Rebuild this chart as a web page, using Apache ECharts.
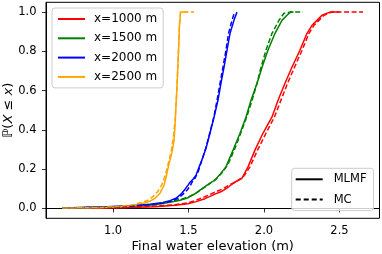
<!DOCTYPE html>
<html>
<head>
<meta charset="utf-8">
<script src="https://cdn.jsdelivr.net/npm/echarts@6/dist/echarts.min.js"></script>
<style>
html,body{margin:0;padding:0;background:#fff;}
#chart{width:382px;height:254px;}
</style>
</head>
<body>
<div id="chart"></div>
<script>
// ---- data ----
const xTicks = [1.0, 1.5, 2.0, 2.5];
const yTicks = [0.0, 0.2, 0.4, 0.6, 0.8, 1.0];
const legendNames = ['x=1000 m', 'x=1500 m', 'x=2000 m', 'x=2500 m'];
const methodNames = ['MLMF', 'MC'];

// x = 1000 m
const x1000_mlmf_x = [0.662, 1.046, 1.278, 1.411, 1.497, 1.550, 1.609, 1.675, 1.722, 1.762, 1.801, 1.854, 1.894, 1.940, 1.993, 2.053, 2.093, 2.139, 2.185, 2.238, 2.285, 2.318, 2.351, 2.384, 2.437, 2.500];
const x1000_mlmf_y = [0.002, 0.004, 0.009, 0.017, 0.024, 0.035, 0.050, 0.073, 0.088, 0.108, 0.131, 0.154, 0.212, 0.297, 0.383, 0.466, 0.551, 0.638, 0.719, 0.806, 0.892, 0.933, 0.958, 0.984, 1.000, 1.000];
const x1000_mc_x = [0.662, 1.046, 1.278, 1.411, 1.497, 1.550, 1.609, 1.675, 1.722, 1.762, 1.808, 1.861, 1.907, 1.957, 2.013, 2.069, 2.112, 2.156, 2.202, 2.252, 2.298, 2.331, 2.364, 2.397, 2.450, 2.536, 2.656];
const x1000_mc_y = [0.002, 0.005, 0.012, 0.019, 0.029, 0.042, 0.060, 0.083, 0.098, 0.116, 0.134, 0.159, 0.212, 0.297, 0.383, 0.466, 0.551, 0.638, 0.719, 0.806, 0.892, 0.933, 0.958, 0.984, 1.000, 1.000, 1.000];

// x = 1500 m
const x1500_mlmf_x = [0.662, 0.980, 1.179, 1.278, 1.377, 1.444, 1.497, 1.543, 1.576, 1.609, 1.642, 1.675, 1.709, 1.748, 1.795, 1.841, 1.881, 1.914, 1.954, 1.987, 2.026, 2.073, 2.119, 2.152, 2.175, 2.195];
const x1500_mlmf_y = [0.002, 0.007, 0.014, 0.019, 0.032, 0.042, 0.055, 0.075, 0.093, 0.111, 0.129, 0.144, 0.175, 0.212, 0.297, 0.383, 0.466, 0.551, 0.638, 0.719, 0.806, 0.892, 0.958, 0.984, 1.000, 1.000];
const x1500_mc_x = [0.662, 0.980, 1.179, 1.278, 1.377, 1.444, 1.497, 1.550, 1.583, 1.616, 1.649, 1.682, 1.722, 1.762, 1.808, 1.848, 1.887, 1.921, 1.954, 1.980, 2.013, 2.053, 2.099, 2.132, 2.172, 2.258];
const x1500_mc_y = [0.002, 0.007, 0.016, 0.022, 0.035, 0.045, 0.058, 0.078, 0.096, 0.113, 0.131, 0.149, 0.182, 0.225, 0.307, 0.388, 0.470, 0.551, 0.638, 0.719, 0.806, 0.892, 0.958, 0.994, 1.000, 1.000];

// x = 2000 m
const x2000_mlmf_x = [0.662, 0.914, 1.113, 1.245, 1.331, 1.377, 1.417, 1.450, 1.477, 1.497, 1.510, 1.530, 1.550, 1.583, 1.616, 1.642, 1.669, 1.695, 1.715, 1.735, 1.755, 1.775, 1.801, 1.821];
const x2000_mlmf_y = [0.002, 0.007, 0.014, 0.022, 0.030, 0.040, 0.052, 0.073, 0.098, 0.119, 0.134, 0.149, 0.170, 0.236, 0.307, 0.383, 0.465, 0.551, 0.638, 0.719, 0.806, 0.892, 0.958, 1.000];
const x2000_mc_x = [0.662, 0.914, 1.113, 1.245, 1.331, 1.384, 1.430, 1.464, 1.490, 1.510, 1.523, 1.543, 1.563, 1.589, 1.616, 1.642, 1.669, 1.689, 1.709, 1.728, 1.748, 1.765, 1.788, 1.805];
const x2000_mc_y = [0.002, 0.006, 0.013, 0.019, 0.027, 0.037, 0.052, 0.073, 0.093, 0.113, 0.134, 0.154, 0.185, 0.246, 0.312, 0.388, 0.470, 0.551, 0.638, 0.719, 0.806, 0.892, 0.958, 1.000];

// x = 2500 m
const x2500_mlmf_x = [0.662, 0.914, 1.046, 1.132, 1.212, 1.245, 1.278, 1.311, 1.338, 1.351, 1.364, 1.377, 1.391, 1.404, 1.411, 1.417, 1.424, 1.434, 1.440, 1.447, 1.470, 1.497];
const x2500_mlmf_y = [0.002, 0.004, 0.009, 0.014, 0.029, 0.037, 0.052, 0.078, 0.119, 0.159, 0.205, 0.246, 0.287, 0.348, 0.424, 0.526, 0.628, 0.806, 0.933, 1.000, 1.000, 1.000];
const x2500_mc_x = [0.662, 0.914, 1.046, 1.132, 1.198, 1.231, 1.264, 1.298, 1.325, 1.344, 1.358, 1.371, 1.384, 1.397, 1.411, 1.421, 1.431, 1.440, 1.447, 1.483, 1.536];
const x2500_mc_y = [0.002, 0.005, 0.011, 0.019, 0.032, 0.042, 0.060, 0.088, 0.124, 0.165, 0.205, 0.246, 0.287, 0.348, 0.450, 0.577, 0.755, 0.933, 1.000, 1.000, 1.000];

const colors = ['#ff0000', '#008000', '#0000ff', '#ffa500'];

// ---- build ----
function pairs(xs, ys) { return xs.map((v, i) => [v, ys[i]]); }
const groups = [
  [x1000_mlmf_x, x1000_mlmf_y, x1000_mc_x, x1000_mc_y],
  [x1500_mlmf_x, x1500_mlmf_y, x1500_mc_x, x1500_mc_y],
  [x2000_mlmf_x, x2000_mlmf_y, x2000_mc_x, x2000_mc_y],
  [x2500_mlmf_x, x2500_mlmf_y, x2500_mc_x, x2500_mc_y]
];
const FONT = 'DejaVu Sans';
const series = [];
groups.forEach((g, i) => {
  series.push({
    name: legendNames[i], type: 'line', data: pairs(g[0], g[1]),
    symbol: 'none', showSymbol: false, silent: true, animation: false, z: 3,
    color: colors[i],
    lineStyle: { color: colors[i], width: 1.5, type: 'solid' }
  });
});
groups.forEach((g, i) => {
  series.push({
    name: legendNames[i] + ' (MC)', type: 'line', data: pairs(g[2], g[3]),
    symbol: 'none', showSymbol: false, silent: true, animation: false, z: 3,
    color: colors[i],
    lineStyle: { color: colors[i], width: 1.5, type: [5, 2.5] }
  });
});
series.push({ name: methodNames[0], type: 'line', data: [], symbol: 'none', color: '#000', lineStyle: { color: '#000', width: 1.5, type: 'solid' } });
series.push({ name: methodNames[1], type: 'line', data: [], symbol: 'none', color: '#000', lineStyle: { color: '#000', width: 1.5, type: [5, 2.5] } });

const legendCommon = {
  orient: 'vertical', itemWidth: 27, itemHeight: 12, icon: 'path://M0,5h27v2h-27z',
  backgroundColor: 'rgba(255,255,255,0.8)', borderColor: '#cccccc', borderWidth: 1, borderRadius: 3,
  selectedMode: false
};

const chart = echarts.init(document.getElementById('chart'), null, { renderer: 'canvas' });
chart.setOption({
  animation: false,
  backgroundColor: '#fff',
  grid: { left: 46, right: 2.5, top: 2.3, bottom: 35.7, containLabel: false, outerBoundsMode: 'none',
          show: true, borderColor: '#000', borderWidth: 1, backgroundColor: 'transparent' },
  legend: [
    Object.assign({}, legendCommon, {
      data: legendNames, left: 52, top: 8, itemGap: 7.3, padding: [5, 6, 5, 6],
      textStyle: { fontFamily: FONT, fontSize: 12, color: '#000', padding: [0, 0, 0, 4] }
    }),
    Object.assign({}, legendCommon, {
      data: [
        { name: methodNames[0], icon: 'path://M0,5h27v2h-27z' },
        { name: methodNames[1], icon: 'path://M0,5h5v2h-5zM8,5h5v2h-5zM16,5h5v2h-5zM24,5h3v2h-3z' }
      ],
      left: 291.7, top: 168.3, itemGap: 8.3, padding: [5, 7, 5, 4],
      textStyle: { fontFamily: FONT, fontSize: 11.5, color: '#000', padding: [0, 0, 0, 6] }
    })
  ],
  xAxis: {
    type: 'value', min: 0.556, max: 2.765,
    name: 'Final water elevation (m)', nameLocation: 'middle', nameGap: 22, nameMoveOverlap: false,
    nameTextStyle: { fontFamily: FONT, fontSize: 13, color: '#000' },
    axisLine: { show: true, lineStyle: { color: '#000', width: 1 } },
    axisTick: { show: true, customValues: xTicks, length: 4, lineStyle: { color: '#000', width: 0.8 } },
    axisLabel: { customValues: xTicks, margin: 7, fontFamily: FONT, fontSize: 11.5, color: '#000', formatter: v => v.toFixed(1) },
    splitLine: { show: false }
  },
  yAxis: {
    type: 'value', min: -0.05, max: 1.05,
    name: '{a|ℙ(}{b|X}{a| ≤ }{b|x}{a|)}', nameLocation: 'middle', nameRotate: 90, nameGap: 31, nameMoveOverlap: false,
    nameTextStyle: {
      fontFamily: FONT, fontSize: 13, color: '#000',
      rich: {
        a: { fontFamily: FONT, fontSize: 13, color: '#000' },
        b: { fontFamily: FONT, fontSize: 13, color: '#000', fontStyle: 'italic' }
      }
    },
    axisLine: { show: true, lineStyle: { color: '#000', width: 1 } },
    axisTick: { show: true, customValues: yTicks, length: 4, lineStyle: { color: '#000', width: 0.8 } },
    axisLabel: { customValues: yTicks, margin: 9.5, fontFamily: FONT, fontSize: 11.5, color: '#000', formatter: v => v.toFixed(1) },
    splitLine: { show: false }
  },
  series: series
});
</script>
</body>
</html>
